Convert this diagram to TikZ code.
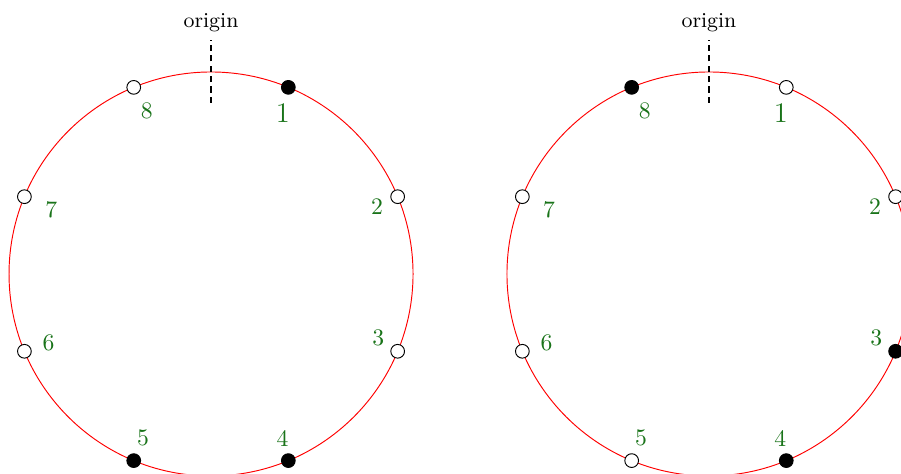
\documentclass[tikz,border=0pt]{standalone}
\usepackage{tikz}
\usetikzlibrary{positioning}
\usepackage{xcolor}
\definecolor{numgreen}{RGB}{25,115,25}

\begin{document}
\begin{tikzpicture}[
    ring/.style={draw=red, thin},
    slot/.style={circle, draw, thin, inner sep=0pt, minimum size=5.8pt},
    openslot/.style={slot, fill=white},
    fullslot/.style={slot, fill=black},
    num/.style={text=numgreen, font=\normalsize, inner sep=0pt},
    bignum/.style={num, font=\large},
    originline/.style={line width=1.2pt, dash pattern=on 2.6pt off 1.8pt},
    originlabel/.style={font=\small, inner sep=0pt}
]
\useasboundingbox (0,0) rectangle (13.381,7.039);
\clip (0,0) rectangle (13.381,7.039);

% left ring
\coordinate (L) at (3.134,2.970);
\draw[ring] (L) circle (3);
\coordinate (Ltop) at ([yshift=2.54cm]L);
\coordinate (Lend) at ([yshift=3.475cm]L);
\draw[originline] (Ltop) -- (Lend);
\node[originlabel, above=1.1mm of Lend] (Lorigin) {origin};
\begin{scope}[shift={(L)}]
\node[fullslot] (l1) at (67.5:3) {};
\node[openslot] (l2) at (22.5:3) {};
\node[openslot] (l3) at (-22.5:3) {};
\node[fullslot] (l4) at (-67.5:3) {};
\node[fullslot] (l5) at (-112.5:3) {};
\node[openslot] (l6) at (-157.5:3) {};
\node[openslot] (l7) at (157.5:3) {};
\node[openslot] (l8) at (112.5:3) {};
\node[bignum] (ln1) at (66:2.62) {1};
\node[num] (ln2) at (22:2.66) {2};
\node[num] (ln3) at (-21:2.66) {3};
\node[num] (ln4) at (-66.5:2.66) {4};
\node[num] (ln5) at (-112.5:2.64) {5};
\node[num] (ln6) at (-157:2.62) {6};
\node[num] (ln7) at (158:2.56) {7};
\node[num] (ln8) at (111.5:2.6) {8};
\end{scope}

% right ring
\coordinate (R) at (10.529,2.970);
\draw[ring] (R) circle (3);
\coordinate (Rtop) at ([yshift=2.54cm]R);
\coordinate (Rend) at ([yshift=3.475cm]R);
\draw[originline] (Rtop) -- (Rend);
\node[originlabel, above=1.1mm of Rend] (Rorigin) {origin};
\begin{scope}[shift={(R)}]
\node[openslot] (r1) at (67.5:3) {};
\node[openslot] (r2) at (22.5:3) {};
\node[fullslot] (r3) at (-22.5:3) {};
\node[fullslot] (r4) at (-67.5:3) {};
\node[openslot] (r5) at (-112.5:3) {};
\node[openslot] (r6) at (-157.5:3) {};
\node[openslot] (r7) at (157.5:3) {};
\node[fullslot] (r8) at (112.5:3) {};
\node[bignum] (rn1) at (66:2.62) {1};
\node[num] (rn2) at (22:2.66) {2};
\node[num] (rn3) at (-21:2.66) {3};
\node[num] (rn4) at (-66.5:2.66) {4};
\node[num] (rn5) at (-112.5:2.64) {5};
\node[num] (rn6) at (-157:2.62) {6};
\node[num] (rn7) at (158:2.56) {7};
\node[num] (rn8) at (111.5:2.6) {8};
\end{scope}
\end{tikzpicture}
\end{document}
